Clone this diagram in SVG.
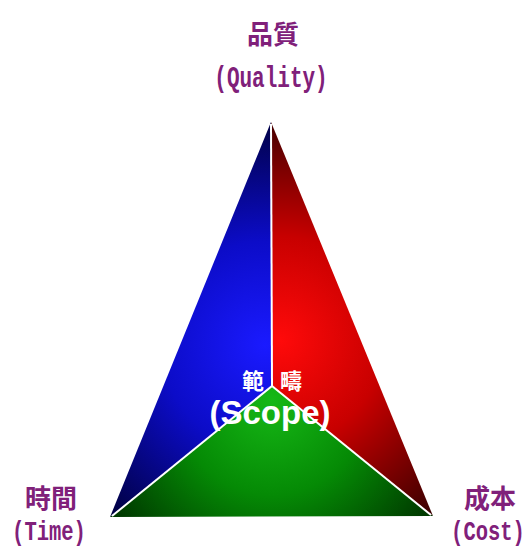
<svg xmlns="http://www.w3.org/2000/svg" width="529" height="550" viewBox="0 0 529 550">
  <defs>
    <radialGradient id="gBlue" gradientUnits="userSpaceOnUse" cx="265" cy="345" r="230">
      <stop offset="0" stop-color="#1a1aff"/>
      <stop offset="0.45" stop-color="#0c0cc8"/>
      <stop offset="1" stop-color="#000040"/>
    </radialGradient>
    <radialGradient id="gRed" gradientUnits="userSpaceOnUse" cx="280" cy="340" r="230">
      <stop offset="0" stop-color="#ff0a0a"/>
      <stop offset="0.45" stop-color="#c80000"/>
      <stop offset="1" stop-color="#3a0000"/>
    </radialGradient>
    <radialGradient id="gGreen" gradientUnits="userSpaceOnUse" cx="272" cy="400" r="190">
      <stop offset="0" stop-color="#16b816"/>
      <stop offset="0.5" stop-color="#058a05"/>
      <stop offset="1" stop-color="#003a00"/>
    </radialGradient>
    <style>
      .lbl { font-family: "Liberation Mono", "Noto Sans CJK TC", monospace; font-weight: bold; fill: #80207a; text-anchor: middle; }
      .cjk { font-family: "Noto Sans CJK TC", sans-serif; font-weight: bold; fill: #80207a; text-anchor: middle; font-size: 26px; }
      .ctr { font-family: "Liberation Sans", "Noto Sans CJK TC", sans-serif; font-weight: bold; fill: #ffffff; text-anchor: middle; }
      .edge { stroke: #ffffff; stroke-width: 2; fill: none; }
    </style>
  </defs>
  <rect width="529" height="550" fill="#ffffff"/>
  <g id="face-quality-time">
    <polygon points="271,122 272,386 110,517" fill="url(#gBlue)"/>
  </g>
  <g id="face-quality-cost">
    <polygon points="271,122 433,516 272,386" fill="url(#gRed)"/>
  </g>
  <g id="face-time-cost">
    <polygon points="110,517 272,386 433,516" fill="url(#gGreen)"/>
  </g>
  <g id="connectors">
    <line class="edge" x1="271" y1="124" x2="272" y2="386"/>
    <line class="edge" x1="112" y1="516" x2="272" y2="386"/>
    <line class="edge" x1="431" y1="515" x2="272" y2="386"/>
  </g>
  <g id="quality">
    <text class="cjk" x="273" y="44">品質</text>
    <text class="lbl" transform="translate(271,87) scale(1,1.43)" x="0" y="0" font-size="21">(Quality)</text>
  </g>
  <g id="time">
    <text class="cjk" x="51" y="508">時間</text>
    <text class="lbl" transform="translate(49,540) scale(1,1.38)" x="0" y="0" font-size="20.5">(Time)</text>
  </g>
  <g id="cost">
    <text class="cjk" x="490" y="508">成本</text>
    <text class="lbl" transform="translate(488,540) scale(1,1.38)" x="0" y="0" font-size="20.5">(Cost)</text>
  </g>
  <g id="scope">
    <text class="ctr" x="280" y="389" font-size="22" letter-spacing="16">範疇</text>
    <text class="ctr" x="270" y="424" font-size="33">(Scope)</text>
  </g>
</svg>
